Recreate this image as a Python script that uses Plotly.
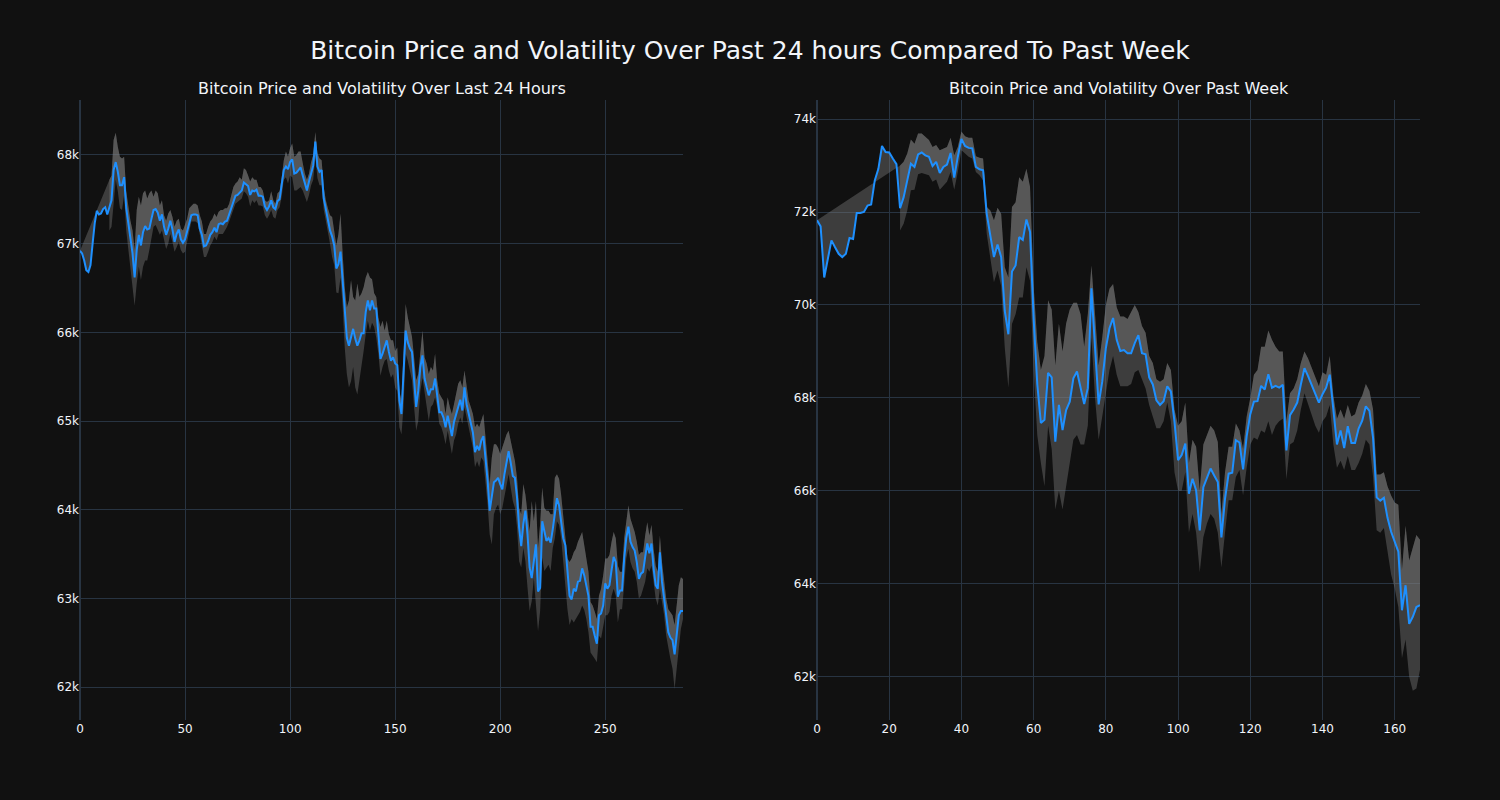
import plotly.graph_objects as go
from plotly.subplots import make_subplots

# ---------------- Last 24 hours (5-minute steps) ----------------
day_price = [
    66.92, 66.89, 66.81, 66.70, 66.68, 66.76, 67.00, 67.23, 67.37, 67.33,
    67.34, 67.39, 67.41, 67.33, 67.41, 67.49, 67.83, 67.92, 67.81, 67.66,
    67.66, 67.75, 67.40, 67.23, 67.04, 66.89, 66.62, 66.93, 67.10, 66.98,
    67.13, 67.20, 67.16, 67.17, 67.28, 67.38, 67.39, 67.35, 67.26, 67.33,
    67.19, 67.10, 67.17, 67.26, 67.16, 67.02, 67.11, 67.16, 67.05, 67.01,
    67.05, 67.15, 67.25, 67.32, 67.33, 67.33, 67.32, 67.17, 67.10, 66.97,
    66.98, 67.03, 67.10, 67.13, 67.18, 67.13, 67.22, 67.23, 67.22, 67.25,
    67.26, 67.33, 67.42, 67.49, 67.54, 67.55, 67.57, 67.60, 67.69, 67.67,
    67.65, 67.55, 67.60, 67.59, 67.61, 67.54, 67.54, 67.53, 67.42, 67.38,
    67.42, 67.49, 67.41, 67.39, 67.48, 67.50, 67.64, 67.83, 67.87, 67.84,
    67.92, 67.95, 67.79, 67.80, 67.83, 67.86, 67.77, 67.69, 67.60, 67.70,
    67.80, 67.88, 68.15, 67.87, 67.81, 67.83, 67.51, 67.39, 67.30, 67.15,
    67.08, 66.98, 66.72, 66.77, 66.91, 66.59, 66.21, 65.94, 65.85, 65.94,
    66.04, 65.93, 65.85, 65.91, 65.99, 65.99, 66.23, 66.36, 66.25, 66.36,
    66.27, 66.27, 65.98, 65.70, 65.76, 65.85, 65.91, 65.78, 65.68, 65.72,
    65.65, 65.63, 65.23, 65.08, 65.49, 66.02, 65.89, 65.82, 65.78, 65.49,
    65.16, 65.34, 65.61, 65.74, 65.48, 65.38, 65.29, 65.36, 65.36, 65.48,
    65.31, 65.10, 65.10, 65.04, 64.93, 65.06, 64.95, 64.83, 64.99, 65.08,
    65.16, 65.24, 65.12, 65.38, 65.19, 65.08, 65.00, 64.87, 64.65, 64.72,
    64.67, 64.78, 64.83, 64.59, 64.33, 63.99, 64.17, 64.31, 64.33, 64.36,
    64.29, 64.23, 64.40, 64.55, 64.66, 64.53, 64.38, 64.36, 64.14, 63.80,
    63.59, 63.84, 63.99, 63.72, 63.35, 63.23, 63.42, 63.61, 63.08, 63.12,
    63.87, 63.74, 63.65, 63.68, 63.63, 63.78, 63.95, 64.13, 64.05, 63.86,
    63.68, 63.60, 63.26, 63.03, 62.99, 63.11, 63.08, 63.19, 63.20, 63.34,
    63.26, 63.15, 63.03, 62.68, 62.68, 62.58, 62.49, 62.81, 62.83, 62.92,
    63.17, 63.11, 63.15, 63.32, 63.47, 63.41, 63.02, 63.09, 63.09, 63.45,
    63.68, 63.81, 63.64, 63.58, 63.54, 63.41, 63.22, 63.28, 63.30, 63.47,
    63.62, 63.51, 63.62, 63.34, 63.15, 63.11, 63.52, 63.19, 63.00, 62.77,
    62.62, 62.56, 62.53, 62.37, 62.56, 62.81, 62.86, 62.86,
]

day_upper = [None] * 14 + [
    67.72, 67.77, 68.17, 68.25, 68.09, 67.98,
    67.96, 67.98, 67.59, 67.42, 67.26, 67.15, 66.93, 67.38, 67.53, 67.43,
    67.57, 67.60, 67.51, 67.57, 67.60, 67.53, 67.60, 67.57, 67.43, 67.49,
    67.32, 67.26, 67.34, 67.38, 67.30, 67.19, 67.26, 67.28, 67.17, 67.15,
    67.21, 67.28, 67.40, 67.43, 67.45, 67.45, 67.43, 67.32, 67.25, 67.11,
    67.11, 67.19, 67.25, 67.28, 67.34, 67.30, 67.36, 67.38, 67.38, 67.40,
    67.40, 67.45, 67.55, 67.64, 67.68, 67.70, 67.75, 67.72, 67.85, 67.83,
    67.77, 67.70, 67.75, 67.72, 67.72, 67.64, 67.64, 67.60, 67.49, 67.47,
    67.49, 67.59, 67.49, 67.45, 67.57, 67.59, 67.75, 67.94, 68.04, 67.98,
    68.08, 68.13, 67.98, 68.00, 68.04, 68.04, 67.91, 67.79, 67.72, 67.79,
    67.92, 68.00, 68.26, 68.02, 67.96, 67.94, 67.64, 67.49, 67.40, 67.32,
    67.30, 67.15, 66.98, 67.11, 67.34, 66.89, 66.51, 66.28, 66.36, 66.59,
    66.40, 66.36, 66.55, 66.40, 66.44, 66.51, 66.62, 66.68, 66.62, 66.60,
    66.44, 66.40, 66.17, 66.06, 66.13, 66.02, 66.13, 65.98, 65.91, 65.91,
    65.79, 65.83, 65.34, 65.23, 65.83, 66.32, 66.17, 66.06, 65.95, 65.72,
    65.46, 65.53, 65.76, 66.02, 65.72, 65.65, 65.53, 65.61, 65.57, 65.76,
    65.46, 65.31, 65.27, 65.23, 65.08, 65.27, 65.16, 65.08, 65.19, 65.31,
    65.42, 65.46, 65.38, 65.57, 65.38, 65.23, 65.16, 65.08, 64.93, 64.97,
    64.93, 65.00, 65.08, 64.82, 64.59, 64.29, 64.59, 64.74, 64.74, 64.70,
    64.63, 64.70, 64.78, 64.85, 64.89, 64.78, 64.63, 64.55, 64.36, 64.02,
    63.95, 64.29, 64.17, 63.95, 63.76, 64.10, 63.87, 64.10, 63.57, 63.84,
    64.25, 64.02, 63.99, 63.99, 63.95, 63.95, 64.36, 64.40, 64.35, 64.17,
    63.94, 63.75, 63.45, 63.41, 63.45, 63.52, 63.56, 63.64, 63.69, 63.75,
    63.60, 63.45, 63.30, 62.96, 62.92, 62.85, 62.77, 63.03, 63.11, 63.26,
    63.45, 63.45, 63.49, 63.64, 63.75, 63.68, 63.37, 63.30, 63.30, 63.68,
    63.90, 64.05, 63.90, 63.83, 63.75, 63.64, 63.49, 63.52, 63.52, 63.71,
    63.86, 63.71, 63.83, 63.56, 63.37, 63.30, 63.71, 63.41, 63.22, 63.00,
    62.88, 62.85, 62.81, 62.70, 62.92, 63.15, 63.24, 63.22,
]

day_lower = [None] * 14 + [
    67.15, 67.19, 67.45, 67.72, 67.59, 67.40,
    67.38, 67.55, 67.15, 66.94, 66.74, 66.51, 66.30, 66.55, 66.74, 66.59,
    66.74, 66.81, 66.81, 66.93, 67.08, 67.19, 67.21, 67.15, 67.10, 67.15,
    67.06, 66.94, 67.00, 67.11, 67.02, 66.91, 66.96, 67.02, 66.93, 66.89,
    66.91, 67.02, 67.15, 67.25, 67.25, 67.25, 67.23, 67.08, 66.98, 66.85,
    66.85, 66.91, 66.98, 67.02, 67.08, 67.04, 67.11, 67.11, 67.11, 67.15,
    67.19, 67.25, 67.32, 67.40, 67.45, 67.47, 67.49, 67.51, 67.59, 67.57,
    67.53, 67.42, 67.49, 67.46, 67.49, 67.43, 67.43, 67.42, 67.32, 67.28,
    67.32, 67.38, 67.30, 67.28, 67.38, 67.41, 67.53, 67.72, 67.75, 67.68,
    67.77, 67.75, 67.60, 67.60, 67.62, 67.64, 67.60, 67.53, 67.47, 67.55,
    67.66, 67.72, 67.98, 67.74, 67.66, 67.66, 67.38, 67.26, 67.15, 67.00,
    66.85, 66.76, 66.45, 66.44, 66.62, 66.30, 65.83, 65.53, 65.38, 65.45,
    65.61, 65.38, 65.30, 65.45, 65.64, 65.79, 65.98, 66.13, 66.02, 66.11,
    66.06, 65.94, 65.76, 65.51, 65.61, 65.68, 65.70, 65.57, 65.49, 65.53,
    65.38, 65.34, 64.93, 64.85, 65.16, 65.76, 65.68, 65.57, 65.46, 65.16,
    64.89, 65.00, 65.34, 65.49, 65.31, 65.16, 65.00, 65.16, 65.19, 65.27,
    65.16, 64.97, 64.93, 64.85, 64.74, 64.89, 64.78, 64.63, 64.78, 64.85,
    64.97, 65.04, 64.97, 65.16, 65.04, 64.93, 64.82, 64.70, 64.48, 64.55,
    64.48, 64.59, 64.55, 64.33, 64.06, 63.72, 63.61, 63.95, 64.02, 64.06,
    63.95, 64.02, 64.14, 64.29, 64.40, 64.25, 64.10, 64.02, 63.80, 63.42,
    63.35, 63.57, 63.42, 63.12, 62.86, 62.97, 63.23, 62.93, 62.63, 62.86,
    63.46, 63.31, 63.35, 63.38, 63.31, 63.57, 63.68, 63.87, 63.83, 63.68,
    63.41, 63.11, 62.88, 62.70, 62.77, 62.73, 62.77, 62.81, 62.85, 62.92,
    62.87, 62.77, 62.62, 62.39, 62.36, 62.32, 62.28, 62.58, 62.55, 62.70,
    62.81, 62.81, 62.85, 63.03, 63.11, 63.03, 62.73, 62.88, 62.88, 63.15,
    63.45, 63.56, 63.41, 63.34, 63.30, 63.19, 63.00, 63.03, 63.11, 63.19,
    63.34, 63.30, 63.37, 63.15, 63.00, 62.92, 63.11, 62.96, 62.81, 62.58,
    62.43, 62.32, 62.21, 61.98, 62.21, 62.47, 62.66, 62.77,
]

# ---------------- Past week (hourly steps) ----------------
week_price = [
    71.82, 71.69, 70.59, 70.99, 71.39, 71.24, 71.10, 71.03, 71.10, 71.44,
    71.42, 71.98, 71.98, 72.00, 72.14, 72.16, 72.68, 72.93, 73.42, 73.29,
    73.28, 73.15, 73.03, 72.08, 72.32, 72.68, 73.04, 72.97, 73.24, 73.28,
    73.22, 73.19, 72.99, 73.08, 72.84, 72.97, 73.02, 73.27, 72.74, 73.19,
    73.57, 73.42, 73.38, 73.37, 72.97, 72.92, 72.90, 71.96, 71.46, 71.03,
    71.30, 71.03, 69.87, 69.37, 70.72, 70.85, 71.46, 71.40, 71.84, 71.57,
    69.70, 68.30, 67.46, 67.53, 68.54, 68.44, 67.06, 67.85, 67.31, 67.74,
    67.92, 68.42, 68.57, 68.21, 67.87, 68.21, 70.36, 69.08, 67.86, 68.35,
    69.07, 69.50, 69.72, 69.25, 69.01, 69.03, 68.96, 68.96, 69.18, 69.35,
    68.96, 68.94, 68.44, 68.29, 67.95, 67.85, 67.93, 68.25, 68.14, 67.49,
    66.66, 66.77, 67.02, 65.94, 66.26, 66.01, 65.15, 66.08, 66.26, 66.48,
    66.33, 66.19, 65.00, 65.83, 66.37, 66.39, 67.09, 67.04, 66.46, 67.18,
    67.65, 67.92, 67.93, 68.26, 68.18, 68.51, 68.22, 68.26, 68.22, 68.28,
    66.87, 67.63, 67.75, 67.90, 68.29, 68.64, 68.47, 68.29, 68.11, 67.90,
    68.08, 68.22, 68.50, 67.79, 67.00, 67.30, 66.92, 67.39, 67.03, 67.03,
    67.34, 67.51, 67.82, 67.72, 67.14, 65.86, 65.79, 65.85, 65.42, 65.12,
    64.91, 64.69, 63.43, 63.97, 63.14, 63.29, 63.50, 63.54,
]

week_upper = [None] * 23 + [
    73.00, 73.08, 73.26, 73.56, 73.47, 73.69, 73.69,
    73.62, 73.55, 73.40, 73.44, 73.33, 73.37, 73.40, 73.60, 73.22, 73.40,
    73.73, 73.63, 73.60, 73.60, 73.20, 73.17, 73.15, 72.11, 72.03, 71.82,
    72.09, 71.96, 70.81, 70.59, 72.11, 72.21, 72.75, 72.65, 72.93, 72.54,
    70.40, 69.20, 68.60, 68.90, 70.10, 69.90, 68.70, 69.60, 69.00, 69.60,
    69.90, 70.05, 70.05, 69.80, 69.10, 69.80, 70.85, 69.80, 68.70, 69.30,
    70.00, 70.35, 70.45, 69.95, 69.75, 69.75, 69.70, 69.85, 70.00, 69.85,
    69.55, 69.40, 68.90, 68.75, 68.40, 68.35, 68.40, 68.75, 68.60, 67.75,
    67.40, 67.50, 67.90, 66.60, 67.10, 66.95, 66.00, 67.00, 67.20, 67.40,
    67.30, 67.05, 65.50, 66.40, 66.95, 66.95, 67.45, 67.30, 66.90, 67.60,
    68.00, 68.50, 68.60, 69.10, 69.10, 69.45, 69.25, 69.10, 69.00, 69.00,
    67.50, 68.10, 68.20, 68.40, 68.75, 69.00, 68.85, 68.65, 68.45, 68.25,
    68.55, 68.50, 68.90, 68.05, 67.55, 67.75, 67.55, 67.85, 67.60, 67.65,
    67.90, 68.05, 68.30, 68.15, 67.75, 66.35, 66.35, 66.40, 66.10, 65.90,
    65.75, 65.70, 64.30, 65.25, 64.50, 64.80, 65.05, 64.95,
]

week_lower = [None] * 23 + [
    71.60, 71.75, 72.03, 72.47, 72.48, 72.81, 72.84,
    72.81, 72.79, 72.65, 72.70, 72.48, 72.57, 72.65, 72.86, 72.48, 72.86,
    73.33, 73.26, 73.19, 73.15, 72.86, 72.79, 72.68, 71.53, 71.03, 70.49,
    70.74, 70.41, 69.08, 68.22, 69.59, 69.80, 70.16, 70.16, 70.81, 70.52,
    68.60, 67.20, 66.60, 66.10, 67.40, 66.90, 65.60, 66.00, 65.60, 66.10,
    66.60, 67.10, 67.20, 67.00, 67.00, 67.40, 69.30, 68.00, 67.10, 67.60,
    68.20, 68.60, 68.90, 68.50, 68.25, 68.25, 68.25, 68.30, 68.55, 68.60,
    68.40, 68.20, 67.85, 67.60, 67.35, 67.35, 67.50, 67.90, 67.50, 66.40,
    66.00, 66.00, 66.40, 65.10, 65.50, 65.10, 64.25, 65.00, 65.30, 65.50,
    65.40, 65.10, 64.35, 65.10, 65.80, 65.80, 66.30, 66.45, 65.90, 66.50,
    67.00, 67.15, 67.10, 67.30, 67.25, 67.50, 67.20, 67.40, 67.50, 67.55,
    66.25, 67.00, 67.05, 67.30, 67.75, 68.10, 67.85, 67.60, 67.40, 67.25,
    67.50, 67.60, 67.85, 67.00, 66.50, 66.65, 66.45, 66.75, 66.45, 66.45,
    66.60, 66.80, 67.10, 67.00, 66.30, 65.15, 65.10, 65.20, 64.65, 64.20,
    63.90, 63.50, 62.40, 62.80, 62.00, 61.70, 61.75, 62.15,
]


def k(vals):
    return [None if v is None else v * 1000 for v in vals]


BAND = "rgba(128,128,128,0.4)"
LINE = "#1E90FF"
FONT = "DejaVu Sans"

fig = make_subplots(
    rows=1, cols=2, horizontal_spacing=0.1,
    subplot_titles=("Bitcoin Price and Volatility Over Last 24 Hours",
                    "Bitcoin Price and Volatility Over Past Week"),
)

for col, price, upper, lower in (
    (1, day_price, day_upper, day_lower),
    (2, week_price, week_upper, week_lower),
):
    x = list(range(len(price)))
    fig.add_trace(go.Scatter(x=x, y=k(price), mode="lines",
                             line=dict(color=LINE, width=0), showlegend=False,
                             hoverinfo="skip"), row=1, col=col)
    fig.add_trace(go.Scatter(x=x, y=k(upper), mode="lines", fill="tonexty",
                             fillcolor=BAND, line=dict(width=0),
                             showlegend=False), row=1, col=col)
    fig.add_trace(go.Scatter(x=x, y=k(lower), mode="lines", fill="tonexty",
                             fillcolor=BAND, line=dict(width=0),
                             showlegend=False), row=1, col=col)
    fig.add_trace(go.Scatter(x=x, y=k(price), mode="lines",
                             line=dict(color=LINE, width=2),
                             showlegend=False), row=1, col=col)

fig.update_layout(
    template="plotly_dark",
    width=1500, height=800,
    font=dict(family=FONT),
    title=dict(text="Bitcoin Price and Volatility Over Past 24 hours Compared To Past Week",
               x=0.5, xanchor="center", y=0.9375, yanchor="middle",
               font=dict(size=25, family=FONT)),
    margin=dict(l=80, r=80, t=100, b=80),
    showlegend=False,
)
for ann in fig.layout.annotations:
    ann.font = dict(size=16, family=FONT)
fig.update_xaxes(range=[0, 287], row=1, col=1)
fig.update_xaxes(range=[0, 167], row=1, col=2)
fig.update_yaxes(range=[61630, 68620], row=1, col=1)
fig.update_yaxes(range=[61070, 74410], row=1, col=2)

fig.write_html("out.html")
